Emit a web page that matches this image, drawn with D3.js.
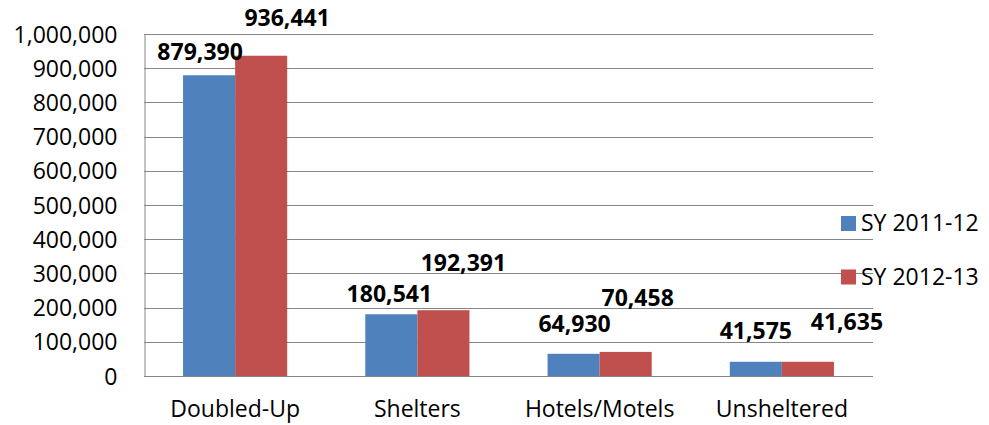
<!DOCTYPE html>
<html><head><meta charset="utf-8">
<script src="https://cdn.jsdelivr.net/npm/d3@7"></script>
<style>html,body{margin:0;padding:0;background:#fff;}svg{display:block;}</style>
</head><body>
<svg id="chart" width="989" height="425"></svg>
<script>
const categories = ["Doubled-Up", "Shelters", "Hotels/Motels", "Unsheltered"];
const seriesNames = ["SY 2011-12", "SY 2012-13"];
const sy2011 = [879390, 180541, 64930, 41575];
const sy2012 = [936441, 192391, 70458, 41635];
const yTicks = [0, 100000, 200000, 300000, 400000, 500000, 600000, 700000, 800000, 900000, 1000000];

// layout: manual label offsets (dx, dy from bar top-center), as in the reference
const labelOffsets = [
  [[-9, -15], [26, -30]],
  [[-2, -12], [20, -39]],
  [[1, -22], [12, -46]],
  [[0, -23], [39, -32]]
];
const colors = ["#4F81BD", "#C0504D"];
const font = "'Open Sans', sans-serif";

const svg = d3.select("#chart");
const L = 144, R = 873, T = 34, B = 376;

const x0 = d3.scaleBand().domain(categories).range([L, R]).paddingInner(0).paddingOuter(0);
const barW = x0.bandwidth() / 3.5;
const x1 = d3.scaleBand().domain(seriesNames).range([0, 2 * barW]);
const y = d3.scaleLinear().domain([0, 1000000]).range([B, T]);
const fmt = d3.format(",");

// gridlines
svg.append("g").selectAll("line").data(yTicks.filter(d => d > 0)).join("line")
  .attr("x1", L).attr("x2", R)
  .attr("y1", d => Math.round(y(d)) + 0.5).attr("y2", d => Math.round(y(d)) + 0.5)
  .attr("stroke", "#868686").attr("stroke-width", 1);

// y axis
const yAxis = d3.axisLeft(y).tickValues(yTicks).tickFormat(fmt).tickSize(0).tickPadding(27);
const ga = svg.append("g").attr("transform", `translate(${L + 0.5},0)`).call(yAxis);
ga.select(".domain").attr("stroke", "#868686");
ga.selectAll("text").attr("font-family", font).attr("font-size", 23).attr("fill", "#000").attr("dy", "0.35em");

// bars
const data = categories.map((c, i) => ({ cat: c, i, vals: [sy2011[i], sy2012[i]] }));
const groups = svg.append("g").selectAll("g").data(data).join("g")
  .attr("transform", d => `translate(${x0(d.cat) + (x0.bandwidth() - 2 * barW) / 2},0)`);
groups.selectAll("rect").data(d => d.vals.map((v, j) => ({ v, j }))).join("rect")
  .attr("x", d => x1(seriesNames[d.j]))
  .attr("width", barW)
  .attr("y", d => y(d.v))
  .attr("height", d => B - y(d.v))
  .attr("fill", d => colors[d.j]);

// x axis line
svg.append("line").attr("x1", L).attr("x2", R).attr("y1", B + 0.5).attr("y2", B + 0.5)
  .attr("stroke", "#868686");

// category labels
const xAxis = d3.axisBottom(x0).tickSize(0).tickPadding(25);
const gx = svg.append("g").attr("transform", `translate(0,${B})`).call(xAxis);
gx.select(".domain").remove();
gx.selectAll("text").attr("font-family", font).attr("font-size", 23).attr("fill", "#000");

// data labels
groups.selectAll("text.lbl").data(d => d.vals.map((v, j) => ({ v, j, i: d.i }))).join("text")
  .attr("class", "lbl")
  .attr("x", d => x1(seriesNames[d.j]) + barW / 2 + labelOffsets[d.i][d.j][0])
  .attr("y", d => y(d.v) + labelOffsets[d.i][d.j][1])
  .attr("text-anchor", "middle")
  .attr("font-family", font).attr("font-weight", "bold").attr("font-size", 23)
  .attr("fill", "#000")
  .text(d => fmt(d.v));

// legend
const leg = svg.append("g").selectAll("g").data(seriesNames).join("g")
  .attr("transform", (d, i) => `translate(841,${216 + i * 53.5})`);
leg.append("rect").attr("width", 15).attr("height", 15).attr("fill", (d, i) => colors[i]);
leg.append("text").attr("x", 20).attr("y", 15).attr("font-family", font).attr("font-size", 23)
  .attr("fill", "#000").text(d => d);
</script>
</body></html>
